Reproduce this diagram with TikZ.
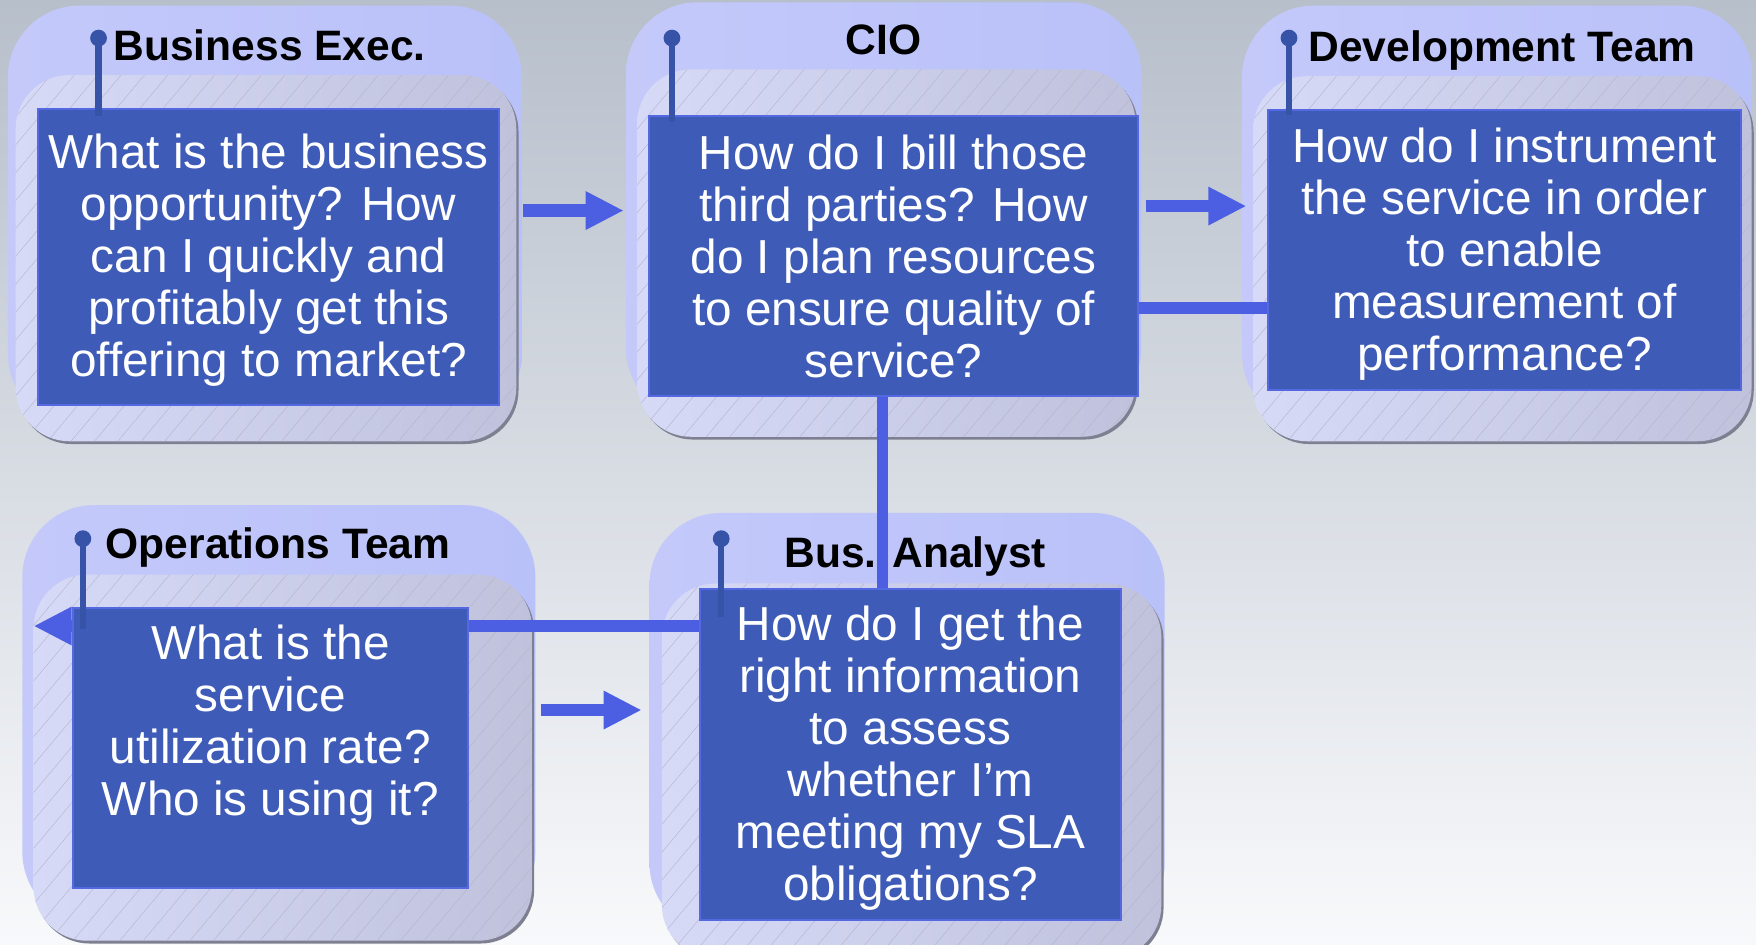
\documentclass[tikz,border=0pt]{standalone}
\usepackage{fontspec}
\setmainfont{Liberation Sans}
\usetikzlibrary{arrows.meta,patterns.meta,calc}
\definecolor{bgT}{HTML}{B7BFCB}
\definecolor{bgB}{HTML}{F8F9FB}
\definecolor{outerc}{HTML}{B9C1F9}
\definecolor{outerl}{HTML}{C4C9FA}
\definecolor{innerl}{HTML}{D7DAF7}
\definecolor{innerr}{HTML}{C0C2DC}
\definecolor{hatchc}{HTML}{B4B6D0}
\definecolor{shadowc}{HTML}{7E8092}
\definecolor{bodyc}{HTML}{3D5BB7}
\definecolor{bodyb}{HTML}{5468E2}
\definecolor{pinc}{HTML}{3753A8}
\definecolor{arrowc}{HTML}{4C5FE2}
\tikzset{
  outerbox/.style={left color=outerl, right color=outerc, rounded corners=32pt},
  innerbox/.style={left color=innerl, right color=innerr, rounded corners=24pt},
  hatchbox/.style={pattern={Lines[angle=50,distance=8pt,line width=0.2pt]}, pattern color=hatchc, rounded corners=24pt},
  shadowbox/.style={fill=shadowc, rounded corners=24pt},
  bodybox/.style={draw=bodyb, line width=0.9pt, fill=bodyc, inner sep=0pt, anchor=north west},
  bodytext/.style={text=white, align=center, font=\fontsize{21.3}{23.2}\selectfont, inner sep=0pt},
  titletext/.style={font=\bfseries\fontsize{19}{22}\selectfont, text=black, inner sep=0pt},
  pinline/.style={draw=pinc, line width=2.8pt},
  pinhead/.style={circle, fill=pinc, inner sep=0pt, minimum size=7.5pt},
  conn/.style={draw=arrowc, line width=5pt},
  blockarrow/.style={draw=arrowc, line width=5.5pt, -{Triangle[length=17pt,width=16pt]}},
}
\newcommand{\panelbg}[8]{%
  \path[outerbox] (#1,#2) rectangle (#3,#4);
  \path[shadowbox] (#5+2,#6+2.5) rectangle (#7+2,#8+2.5);
  \path[innerbox] (#5,#6) rectangle (#7,#8);
  \path[hatchbox] (#5,#6) rectangle (#7,#8);
}
\begin{document}
\begin{tikzpicture}[x=0.5pt,y=-0.5pt]
\useasboundingbox (0,0) rectangle (1568,843);
\shade[top color=bgT, bottom color=bgB] (0,0) rectangle (1568,843);

% panel backgrounds
\panelbg{7}{5}{466}{380}{14}{67}{461}{394}
\panelbg{559}{2}{1019}{375}{569}{62}{1014}{390}
\panelbg{1109}{5}{1565}{380}{1119}{68}{1564}{394}
\panelbg{20}{451}{478}{825}{30}{513}{475}{840}
\panelbg{580}{458}{1040}{835}{591}{521}{1037}{856}

% named points for free arrow ends
\coordinate (a1s) at (467,188);
\coordinate (a1e) at (557,188);
\coordinate (a2s) at (1023,184);
\coordinate (a2e) at (1113,184);
\coordinate (a3s) at (483,634);
\coordinate (a3e) at (573,634);
\coordinate (opstip) at (30,559);

% body frames, drawn invisibly first to anchor the connectors
\path node[bodybox, draw=none, fill=none, minimum width=218pt, minimum height=125pt] (cioref) at (579,103) {};
\path node[bodybox, draw=none, fill=none, minimum width=211.5pt, minimum height=125pt] (devref) at (1131,97) {};
\path node[bodybox, draw=none, fill=none, minimum width=188pt, minimum height=148pt] (baref) at (624,525) {};

% connectors
\draw[blockarrow] (a1s) -- (a1e);
\draw[blockarrow] (a2s) -- (a2e);
\draw[blockarrow] (a3s) -- (a3e);
\draw[conn] (cioref.east |- 0,275) -- (devref.west |- 0,275);
\draw[conn] (788,0 |- cioref.south) -- (788,0 |- baref.north);
\draw[blockarrow] (baref.west |- opstip) -- (opstip);

% bodies
\node[bodybox, minimum width=206pt, minimum height=132.5pt] (be) at (33,96) {};
\node[bodybox, minimum width=218pt, minimum height=125pt] (cio) at (579,103) {};
\node[bodybox, minimum width=211.5pt, minimum height=125pt] (dev) at (1131,97) {};
\node[bodybox, minimum width=176.5pt, minimum height=125pt] (ops) at (64,542) {};
\node[bodybox, minimum width=188pt, minimum height=148pt] (ba) at (624,525) {};

% body texts
\node[bodytext] (bet) at ($(be.center)+(0,3)$)
  {What is the business\\opportunity? How\\can I quickly and\\profitably get this\\offering to market?};
\node[bodytext] (ciot) at ($(cio.center)+(0,0)$)
  {How do I bill those\\third parties? How\\do I plan resources\\to ensure quality of\\service?};
\node[bodytext] (devt) at ($(dev.center)+(0,4)$)
  {How do I instrument\\the service in order\\to enable\\measurement of\\performance?};
\node[bodytext] (opst) at ($(ops.center)+(0,-20)$)
  {What is the\\service\\utilization rate?\\Who is using it?};
\node[bodytext] (bat) at ($(ba.center)+(0,3)$)
  {How do I get the\\right information\\to assess\\whether I’m\\meeting my SLA\\obligations?};

% pins
\node[pinhead] (pbe) at (88,34) {};
\draw[pinline] (pbe.center) -- (88,104);
\node[pinhead] (pcio) at (600,34) {};
\draw[pinline] (pcio.center) -- (600,109);
\node[pinhead] (pdev) at (1151,34) {};
\draw[pinline] (pdev.center) -- (1151,103);
\node[pinhead] (pops) at (74,481) {};
\draw[pinline] (pops.center) -- (74,562);
\node[pinhead] (pba) at (644,481) {};
\draw[pinline] (pba.center) -- (644,551);

% titles
\node[titletext, anchor=base west] (tbe) at (101,54) {Business Exec.};
\node[titletext, anchor=base] (tcio) at (789,49) {CIO};
\node[titletext, anchor=base west] (tdev) at (1168,55) {Development Team};
\node[titletext, anchor=base west] (tops) at (94,499) {Operations Team};
\node[titletext, anchor=base west] (tba) at (700,507) {Bus. Analyst};
\end{tikzpicture}
\end{document}
